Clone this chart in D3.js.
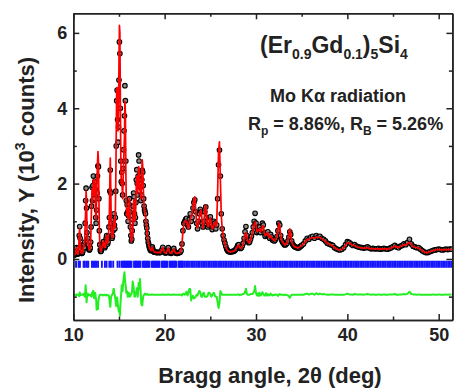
<!DOCTYPE html>
<html><head><meta charset="utf-8">
<script src="https://cdn.jsdelivr.net/npm/d3@7"></script>
<style>
body{margin:0;background:#fff}
svg{display:block}
text{font-family:Arial,"Liberation Sans",Helvetica,sans-serif;font-weight:bold;fill:#222}
</style>
</head><body>
<svg id="chart" width="454" height="388"></svg>
<script>
// 2θ grid (deg)
const twoTheta = [
10,10.05,10.1,10.15,10.2,10.25,10.3,10.35,10.4,10.45,10.5,10.55,10.6,10.65,10.7,10.75,10.8,10.85,10.9,10.95,
11,11.05,11.1,11.15,11.2,11.25,11.3,11.35,11.4,11.45,11.5,11.55,11.6,11.65,11.7,11.75,11.8,11.85,11.9,11.95,
12,12.05,12.1,12.15,12.2,12.25,12.3,12.35,12.4,12.45,12.5,12.55,12.6,12.65,12.7,12.75,12.8,12.85,12.9,12.95,
13,13.05,13.1,13.15,13.2,13.25,13.3,13.35,13.4,13.45,13.5,13.55,13.6,13.65,13.7,13.75,13.8,13.85,13.9,13.95,
14,14.05,14.1,14.15,14.2,14.25,14.3,14.35,14.4,14.45,14.5,14.55,14.6,14.65,14.7,14.75,14.8,14.85,14.9,14.95,
15,15.05,15.1,15.15,15.2,15.25,15.3,15.35,15.4,15.45,15.5,15.55,15.6,15.65,15.7,15.75,15.8,15.85,15.9,15.95,
16,16.05,16.1,16.15,16.2,16.25,16.3,16.35,16.4,16.45,16.5,16.55,16.6,16.65,16.7,16.75,16.8,16.85,16.9,16.95,
17,17.05,17.1,17.15,17.2,17.25,17.3,17.35,17.4,17.45,17.5,17.55,17.6,17.65,17.7,17.75,17.8,17.85,17.9,17.95,
18,18.05,18.1,18.15,18.2,18.25,18.3,18.35,18.4,18.45,18.5,18.55,18.6,18.65,18.7,18.75,18.8,18.85,18.9,18.95,
19,19.1,19.2,19.3,19.4,19.5,19.6,19.7,19.8,19.9,
20,20.1,20.2,20.3,20.4,20.5,20.6,20.7,20.8,20.9,
21,21.1,21.2,21.3,21.4,21.5,21.6,21.7,21.8,21.9,
22,22.1,22.2,22.3,22.4,22.5,22.6,22.7,22.8,22.9,
23,23.1,23.2,23.3,23.4,23.5,23.6,23.7,23.8,23.9,
24,24.1,24.2,24.3,24.4,24.5,24.6,24.7,24.8,24.9,
25,25.1,25.2,25.3,25.4,25.5,25.6,25.7,25.8,25.9,
26,26.1,26.2,26.3,26.4,26.5,26.6,26.7,26.8,26.9,
27,27.1,27.2,27.3,27.4,27.5,27.6,27.7,27.8,27.9,
28,28.1,28.2,28.3,28.4,28.5,28.6,28.7,28.8,28.9,
29,29.1,29.2,29.3,29.4,29.5,29.6,29.7,29.8,29.9,
30,30.1,30.2,30.3,30.4,30.5,30.6,30.7,30.8,30.9,
31,31.1,31.2,31.3,31.4,31.5,31.6,31.7,31.8,31.9,
32,32.1,32.2,32.3,32.4,32.5,32.6,32.7,32.8,32.9,
33,33.1,33.2,33.3,33.4,33.5,33.6,33.7,33.8,33.9,
34,34.1,34.2,34.3,34.4,34.5,34.6,34.7,34.8,34.9,
35,
35.2,35.4,35.6,35.8,36,36.2,36.4,36.6,36.8,37,
37.2,37.4,37.6,37.8,38,38.2,38.4,38.6,38.8,39,
39.2,39.4,39.6,39.8,40,40.2,40.4,40.6,40.8,41,
41.2,41.4,41.6,41.8,42,42.2,42.4,42.6,42.8,43,
43.2,43.4,43.6,43.8,44,44.2,44.4,44.6,44.8,45,
45.2,45.4,45.6,45.8,46,46.2,46.4,46.6,46.8,47,
47.2,47.4,47.6,47.8,48,48.2,48.4,48.6,48.8,49,
49.2,49.4,49.6,49.8,50,50.2,50.4,50.6,50.8,51,
51.2,51.4
];

// observed intensity (10^3 counts)
const yObs = [
0.10,0.10,0.11,0.11,0.12,0.14,0.22,0.30,0.20,0.14,0.13,0.15,0.30,0.62,0.86,0.55,0.26,0.17,0.15,0.15,
0.17,0.22,0.32,0.40,0.30,0.45,0.95,1.55,1.88,1.35,0.70,0.45,0.55,0.38,0.26,0.24,0.25,0.30,0.45,0.85,
1.40,1.90,1.55,1.95,2.20,1.70,1.60,2.05,1.85,1.10,0.95,1.30,1.75,2.20,2.47,2.45,1.60,0.75,0.38,0.24,
0.20,0.21,0.26,0.30,0.36,0.42,0.46,0.38,0.32,0.30,0.34,0.42,0.55,0.62,0.48,0.40,0.45,0.60,0.85,1.10,
1.80,2.36,1.75,0.95,0.62,0.55,0.60,0.75,1.05,1.20,0.90,0.80,1.10,1.80,3.00,4.20,4.48,3.70,3.10,3.50,
4.75,5.76,5.45,4.00,2.60,2.05,2.30,2.00,1.70,2.40,2.90,3.40,3.80,4.60,4.20,2.60,1.55,1.20,1.44,1.25,
1.00,1.15,1.45,1.60,1.25,0.85,0.62,0.48,0.52,0.75,1.05,1.40,1.75,1.65,1.20,0.95,1.10,1.50,2.10,2.37,
2.00,1.70,2.20,2.76,2.60,2.10,2.25,1.90,1.55,1.70,2.10,2.35,2.30,1.95,1.60,1.40,1.30,1.25,1.20,1.00,
0.90,0.82,0.68,0.55,0.45,0.40,0.34,0.30,0.26,0.24,0.22,0.24,0.30,0.32,0.26,0.22,0.20,0.19,0.18,0.18,
0.18,0.17,0.17,0.18,0.17,0.17,0.19,0.25,0.31,0.22,
0.17,0.16,0.17,0.24,0.30,0.21,0.16,0.15,0.17,0.22,
0.28,0.20,0.16,0.15,0.15,0.16,0.17,0.18,0.22,0.40,
0.75,0.95,1.00,1.05,1.08,0.90,0.85,1.05,1.20,1.00,
1.10,1.35,1.50,1.57,1.25,0.95,0.80,1.00,1.20,1.32,
1.25,0.95,0.85,1.00,1.25,1.38,1.10,0.85,0.90,1.10,
1.12,0.90,0.78,0.85,1.00,0.95,0.80,0.90,1.60,2.50,
2.89,2.20,1.20,0.80,0.62,0.50,0.42,0.33,0.26,0.22,
0.20,0.19,0.19,0.19,0.20,0.20,0.21,0.23,0.26,0.30,
0.36,0.38,0.30,0.28,0.30,0.35,0.42,0.55,0.72,0.86,
0.62,0.48,0.43,0.45,0.52,0.60,0.70,0.85,1.00,1.21,
0.95,0.70,0.80,0.72,0.85,0.70,0.78,0.95,0.90,0.68,
0.60,0.70,0.62,0.72,0.60,0.55,0.65,0.58,0.50,0.52,
0.48,0.50,0.55,0.60,0.75,0.95,0.90,0.62,0.50,0.45,
0.42,0.38,0.37,0.40,0.42,0.48,0.58,0.72,0.65,0.48,
0.40,0.36,0.33,0.32,0.31,0.30,0.29,0.30,0.32,0.34,
0.36,
0.40,0.48,0.55,0.52,0.58,0.60,0.55,0.62,0.58,0.60,
0.55,0.52,0.48,0.42,0.40,0.38,0.36,0.30,0.27,0.25,
0.24,0.26,0.30,0.38,0.46,0.44,0.40,0.36,0.38,0.34,
0.32,0.31,0.30,0.29,0.30,0.32,0.29,0.27,0.28,0.27,
0.27,0.28,0.26,0.27,0.28,0.27,0.26,0.28,0.30,0.33,
0.36,0.32,0.30,0.34,0.36,0.40,0.38,0.44,0.52,0.40,
0.34,0.32,0.30,0.30,0.26,0.22,0.19,0.17,0.17,0.19,
0.21,0.23,0.24,0.25,0.26,0.25,0.24,0.25,0.26,0.25,
0.26,0.26
];

// calculated intensity (10^3 counts)
const yCalc = [
0.10,0.10,0.11,0.11,0.12,0.14,0.24,0.30,0.19,0.14,0.13,0.15,0.32,0.66,0.80,0.52,0.27,0.17,0.15,0.15,
0.17,0.21,0.30,0.38,0.32,0.50,0.90,1.30,1.80,1.55,0.78,0.42,0.52,0.40,0.27,0.24,0.25,0.31,0.48,0.88,
1.45,1.85,1.50,1.85,2.10,1.75,1.70,2.10,1.80,1.15,1.05,1.70,2.10,2.55,2.85,2.60,1.70,0.78,0.38,0.24,
0.20,0.21,0.26,0.31,0.37,0.44,0.47,0.38,0.32,0.30,0.35,0.44,0.57,0.62,0.49,0.41,0.46,0.62,0.88,1.20,
2.05,2.68,1.90,1.00,0.64,0.55,0.58,0.70,0.90,1.05,0.88,0.82,1.20,2.00,3.30,4.50,4.55,3.90,3.40,3.90,
5.20,6.20,6.00,4.30,2.70,2.00,2.05,1.90,1.60,2.10,2.50,2.90,3.20,4.18,3.90,2.40,1.50,1.15,1.35,1.30,
1.05,1.15,1.40,1.60,1.30,0.88,0.62,0.46,0.48,0.60,0.70,1.10,1.55,1.57,1.25,1.00,1.10,1.45,2.00,2.20,
1.95,1.75,2.10,2.45,2.40,1.95,1.83,1.70,1.60,1.95,2.38,2.63,2.45,2.00,1.62,1.40,1.28,1.22,1.18,1.00,
0.90,0.80,0.66,0.54,0.45,0.40,0.34,0.30,0.26,0.24,0.22,0.24,0.29,0.31,0.26,0.22,0.20,0.19,0.18,0.18,
0.18,0.17,0.17,0.18,0.17,0.17,0.19,0.25,0.30,0.22,
0.17,0.16,0.17,0.24,0.29,0.21,0.16,0.15,0.17,0.22,
0.27,0.20,0.16,0.15,0.15,0.16,0.17,0.18,0.22,0.42,
0.72,0.92,1.00,1.02,1.00,0.92,0.80,0.90,1.05,1.15,
1.15,1.38,1.60,1.65,1.30,0.95,0.82,0.95,1.10,1.25,
1.30,1.00,0.82,0.95,1.30,1.43,1.15,0.88,0.85,1.05,
1.10,0.95,0.80,0.82,0.95,0.98,0.85,0.95,1.80,2.85,
3.11,2.10,1.15,0.80,0.62,0.50,0.42,0.33,0.26,0.22,
0.20,0.19,0.19,0.19,0.20,0.20,0.21,0.23,0.26,0.30,
0.35,0.37,0.31,0.28,0.30,0.34,0.40,0.52,0.65,0.70,
0.60,0.48,0.43,0.45,0.50,0.58,0.68,0.80,0.92,0.98,
0.90,0.72,0.76,0.75,0.80,0.72,0.78,0.88,0.88,0.70,
0.62,0.66,0.64,0.70,0.62,0.56,0.62,0.58,0.52,0.52,
0.49,0.50,0.54,0.60,0.78,0.95,0.88,0.62,0.50,0.45,
0.42,0.39,0.37,0.40,0.43,0.50,0.62,0.80,0.68,0.48,
0.40,0.36,0.33,0.32,0.31,0.30,0.29,0.30,0.32,0.34,
0.36,
0.40,0.46,0.52,0.52,0.55,0.57,0.55,0.58,0.57,0.57,
0.54,0.50,0.47,0.42,0.40,0.37,0.35,0.30,0.27,0.25,
0.24,0.26,0.30,0.37,0.43,0.43,0.39,0.36,0.36,0.33,
0.31,0.30,0.29,0.29,0.29,0.30,0.28,0.27,0.27,0.27,
0.27,0.27,0.26,0.27,0.27,0.27,0.26,0.27,0.29,0.32,
0.34,0.32,0.30,0.33,0.35,0.38,0.37,0.41,0.44,0.38,
0.33,0.31,0.30,0.29,0.26,0.22,0.19,0.17,0.17,0.19,
0.21,0.22,0.24,0.25,0.25,0.25,0.24,0.25,0.25,0.25,
0.25,0.26
];

// Bragg reflection positions (deg)
const braggPos = [
10.30,10.58,10.73,11.13,11.27,11.49,11.64,12.04,12.19,12.37,12.51,12.71,13.13,13.46,13.64,13.95,14.12,14.37,14.84,15.06,
15.30,15.42,15.55,15.66,15.78,15.90,16.02,16.13,16.25,16.37,16.65,16.76,16.88,17.00,17.12,17.24,17.36,
17.62,17.74,17.86,17.98,18.10,18.22,18.34,18.60,18.72,18.84,18.96,19.08,19.20,19.32,19.44,
19.70,19.82,19.94,20.06,20.18,20.30,20.55,20.67,20.79,20.91,21.03,21.15,21.27,21.52,21.64,21.76,21.88,22.00,
22.18,22.36,22.55,22.73,22.92,23.10,23.29,23.47,23.66,23.84,24.03,24.21,24.40,24.58,24.77,24.95,25.14,25.32,25.51,25.69,
25.88,26.06,26.25,26.43,26.62,26.80,26.99,27.17,27.36,27.54,27.73,27.91,28.10,28.28,28.47,28.65,28.84,29.02,29.21,29.39,
29.58,29.76,29.95,30.13,30.32,30.50,30.69,30.87,31.06,31.24,31.43,31.61,31.80,31.98,32.17,32.35,32.54,32.72,32.91,33.09,
33.28,33.46,33.65,33.83,34.02,34.20,34.39,34.57,34.76,34.94,35.13,35.31,35.50,35.68,35.87,36.05,36.24,36.42,36.61,36.79,
36.98,37.16,37.35,37.53,37.72,37.90,38.09,38.27,38.46,38.64,38.83,39.01,39.20,39.38,39.57,39.75,39.94,40.12,40.31,40.49,
40.68,40.86,41.05,41.23,41.42,41.60,41.79,41.97,42.16,42.34,42.53,42.71,42.90,43.08,43.27,43.45,43.64,43.82,44.01,44.19,
44.38,44.56,44.75,44.93,45.12,45.30,45.49,45.67,45.86,46.04,46.23,46.41,46.60,46.78,46.97,47.15,47.34,47.52,47.71,47.89,
48.08,48.26,48.45,48.63,48.82,49.00,49.19,49.37,49.56,49.74,49.93,50.11,50.30,50.48,50.67,50.85,51.04,51.22,51.41
];

const xTicks = [10,20,30,40,50];
const xMinorTicks = [15,25,35,45];
const yTicks = [0,2,4,6];
const yMinorTicks = [-1,1,3,5];
const diffOffset = -0.95;      // baseline of the difference curve
const braggLevel = [-0.05,-0.23]; // vertical extent of reflection markers

const W = 454, H = 388;
const M = {l:73.3, r:1.6, t:13.3, b:68};
const svg = d3.select('#chart');

const x = d3.scaleLinear().domain([10,51.5]).range([M.l, W-M.r]);
const y = d3.scaleLinear().domain([-1.62,6.52]).range([H-M.b, M.t]);

const n = Math.min(twoTheta.length, yObs.length, yCalc.length);
const pts = d3.range(n).map(i => ({t:twoTheta[i], o:yObs[i], c:yCalc[i], d:yObs[i]-yCalc[i]}));

svg.append('clipPath').attr('id','clip').append('rect')
  .attr('x',M.l).attr('y',M.t).attr('width',W-M.r-M.l).attr('height',H-M.b-M.t);
const plot = svg.append('g').attr('clip-path','url(#clip)');

// observed points
plot.append('g').selectAll('circle').data(pts).join('circle')
  .attr('cx',d=>x(d.t)).attr('cy',d=>y(d.o)).attr('r',2.3)
  .attr('fill','#8a8a8a').attr('stroke','#000').attr('stroke-width',1.1);

// calculated profile
plot.append('path').datum(pts)
  .attr('d', d3.line().x(d=>x(d.t)).y(d=>y(d.c)))
  .attr('fill','none').attr('stroke','#ff0000').attr('stroke-width',1.7).attr('stroke-linejoin','round');

// Bragg markers
plot.append('g').selectAll('line').data(braggPos).join('line')
  .attr('x1',d=>x(d)).attr('x2',d=>x(d))
  .attr('y1',y(braggLevel[0])).attr('y2',y(braggLevel[1]))
  .attr('stroke','#1414ff').attr('stroke-width',1.9);

// difference curve
plot.append('path').datum(pts)
  .attr('d', d3.line().x(d=>x(d.t)).y(d=>y(d.d+diffOffset)))
  .attr('fill','none').attr('stroke','#22ee22').attr('stroke-width',2).attr('stroke-linejoin','round');

// axes
function styleAxis(g, labels){
  g.select('.domain').attr('stroke','#222').attr('stroke-width',1.5);
  g.selectAll('.tick line').attr('stroke','#222').attr('stroke-width',1.5);
  g.selectAll('.tick text').attr('font-size',18).attr('font-family','Arial, "Liberation Sans", sans-serif')
    .attr('font-weight','bold').attr('fill','#222');
  if(!labels) g.selectAll('.tick text').remove();
}
const yB = H-M.b, xR = W-M.r;
svg.append('g').attr('transform',`translate(0,${yB})`)
  .call(d3.axisBottom(x).tickValues(xMinorTicks).tickSizeInner(-3.5).tickSizeOuter(0)).call(g=>styleAxis(g,false));
svg.append('g').attr('transform',`translate(0,${yB})`)
  .call(d3.axisBottom(x).tickValues(xTicks).tickSizeInner(-6).tickSizeOuter(0).tickPadding(8).tickFormat(d3.format('d')))
  .call(g=>styleAxis(g,true));
svg.append('g').attr('transform',`translate(0,${M.t})`)
  .call(d3.axisTop(x).tickValues(xMinorTicks).tickSizeInner(-3.5).tickSizeOuter(0)).call(g=>styleAxis(g,false));
svg.append('g').attr('transform',`translate(0,${M.t})`)
  .call(d3.axisTop(x).tickValues(xTicks).tickSizeInner(-6).tickSizeOuter(0)).call(g=>styleAxis(g,false));
svg.append('g').attr('transform',`translate(${M.l},0)`)
  .call(d3.axisLeft(y).tickValues(yMinorTicks).tickSizeInner(-3.5).tickSizeOuter(0)).call(g=>styleAxis(g,false));
svg.append('g').attr('transform',`translate(${M.l},0)`)
  .call(d3.axisLeft(y).tickValues(yTicks).tickSizeInner(-6).tickSizeOuter(0).tickPadding(6).tickFormat(d3.format('d')))
  .call(g=>styleAxis(g,true));
svg.append('g').attr('transform',`translate(${xR},0)`)
  .call(d3.axisRight(y).tickValues(yMinorTicks).tickSizeInner(-3.5).tickSizeOuter(0)).call(g=>styleAxis(g,false));
svg.append('g').attr('transform',`translate(${xR},0)`)
  .call(d3.axisRight(y).tickValues(yTicks).tickSizeInner(-6).tickSizeOuter(0)).call(g=>styleAxis(g,false));

// axis titles
svg.append('text').attr('x',270).attr('y',383).attr('text-anchor','middle')
  .attr('font-size',22).text('Bragg angle, 2θ (deg)');
const yt = svg.append('text').attr('transform','translate(34,180) rotate(-90)')
  .attr('text-anchor','middle').attr('font-size',22);
yt.append('tspan').text('Intensity, Y (10');
yt.append('tspan').attr('font-size',14).attr('dy',-9).text('3');
yt.append('tspan').attr('dy',9).text(' counts)');

// annotations
const t1 = svg.append('text').attr('x',260).attr('y',53).attr('font-size',23);
[['(Er',0],['0.9',1],['Gd',0],['0.1',1],[')',0],['5',1],['Si',0],['4',1]].forEach((p,i,arr)=>{
  const prev = i>0 ? arr[i-1][1] : 0;
  const dy = (p[1]-prev)*6;
  t1.append('tspan').attr('font-size',p[1]?14:23).attr('dy',dy).text(p[0]);
});
svg.append('text').attr('x',270).attr('y',102).attr('font-size',18).text('Mo Kα radiation');
const t3 = svg.append('text').attr('x',248).attr('y',130).attr('font-size',18);
t3.append('tspan').text('R');
t3.append('tspan').attr('font-size',12).attr('dy',5).text('p');
t3.append('tspan').attr('dy',-5).text(' = 8.86%, R');
t3.append('tspan').attr('font-size',12).attr('dy',5).text('B');
t3.append('tspan').attr('dy',-5).text(' = 5.26%');
</script>
</body></html>
